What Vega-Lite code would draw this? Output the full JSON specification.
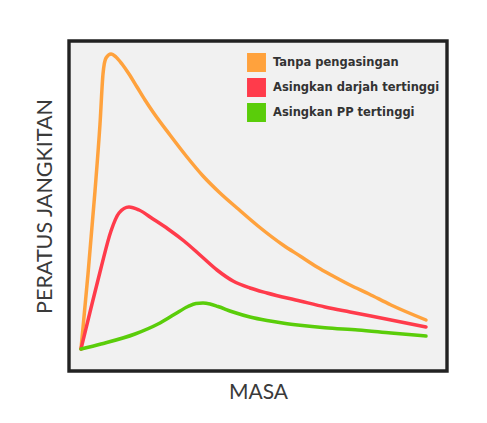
{
  "$schema": "https://vega.github.io/schema/vega-lite/v6.json",
  "autosize": {"type": "none"},
  "padding": {"left": 69, "top": 41, "right": 40, "bottom": 52},
  "width": 378,
  "height": 330,
  "background": "#ffffff",
  "config": {
    "view": {"fill": "#f1f1f1", "stroke": "#222222", "strokeWidth": 3.4},
    "font": "Lato"
  },
  "data": {
    "values": [
      {"series": "Tanpa pengasingan", "masa": 12, "peratus": 22},
      {"series": "Tanpa pengasingan", "masa": 19, "peratus": 97},
      {"series": "Tanpa pengasingan", "masa": 26, "peratus": 180},
      {"series": "Tanpa pengasingan", "masa": 31, "peratus": 247},
      {"series": "Tanpa pengasingan", "masa": 34, "peratus": 297},
      {"series": "Tanpa pengasingan", "masa": 37, "peratus": 313},
      {"series": "Tanpa pengasingan", "masa": 42, "peratus": 317},
      {"series": "Tanpa pengasingan", "masa": 47, "peratus": 314},
      {"series": "Tanpa pengasingan", "masa": 53, "peratus": 307},
      {"series": "Tanpa pengasingan", "masa": 60, "peratus": 297},
      {"series": "Tanpa pengasingan", "masa": 68, "peratus": 284},
      {"series": "Tanpa pengasingan", "masa": 76, "peratus": 271},
      {"series": "Tanpa pengasingan", "masa": 84, "peratus": 259},
      {"series": "Tanpa pengasingan", "masa": 101, "peratus": 236},
      {"series": "Tanpa pengasingan", "masa": 118, "peratus": 214},
      {"series": "Tanpa pengasingan", "masa": 134, "peratus": 195},
      {"series": "Tanpa pengasingan", "masa": 151, "peratus": 178},
      {"series": "Tanpa pengasingan", "masa": 168, "peratus": 163},
      {"series": "Tanpa pengasingan", "masa": 189, "peratus": 145},
      {"series": "Tanpa pengasingan", "masa": 214, "peratus": 126},
      {"series": "Tanpa pengasingan", "masa": 231, "peratus": 115},
      {"series": "Tanpa pengasingan", "masa": 248, "peratus": 104},
      {"series": "Tanpa pengasingan", "masa": 264, "peratus": 95},
      {"series": "Tanpa pengasingan", "masa": 281, "peratus": 86},
      {"series": "Tanpa pengasingan", "masa": 300, "peratus": 77},
      {"series": "Tanpa pengasingan", "masa": 322, "peratus": 66},
      {"series": "Tanpa pengasingan", "masa": 357, "peratus": 51},
      {"series": "Asingkan darjah tertinggi", "masa": 12, "peratus": 22},
      {"series": "Asingkan darjah tertinggi", "masa": 22, "peratus": 63},
      {"series": "Asingkan darjah tertinggi", "masa": 32, "peratus": 103},
      {"series": "Asingkan darjah tertinggi", "masa": 42, "peratus": 140},
      {"series": "Asingkan darjah tertinggi", "masa": 50, "peratus": 158},
      {"series": "Asingkan darjah tertinggi", "masa": 60, "peratus": 164},
      {"series": "Asingkan darjah tertinggi", "masa": 70, "peratus": 161},
      {"series": "Asingkan darjah tertinggi", "masa": 84, "peratus": 152},
      {"series": "Asingkan darjah tertinggi", "masa": 99, "peratus": 142},
      {"series": "Asingkan darjah tertinggi", "masa": 115, "peratus": 130},
      {"series": "Asingkan darjah tertinggi", "masa": 131, "peratus": 116},
      {"series": "Asingkan darjah tertinggi", "masa": 148, "peratus": 101},
      {"series": "Asingkan darjah tertinggi", "masa": 164, "peratus": 90},
      {"series": "Asingkan darjah tertinggi", "masa": 181, "peratus": 83},
      {"series": "Asingkan darjah tertinggi", "masa": 198, "peratus": 78},
      {"series": "Asingkan darjah tertinggi", "masa": 231, "peratus": 70},
      {"series": "Asingkan darjah tertinggi", "masa": 256, "peratus": 64},
      {"series": "Asingkan darjah tertinggi", "masa": 281, "peratus": 59},
      {"series": "Asingkan darjah tertinggi", "masa": 322, "peratus": 51},
      {"series": "Asingkan darjah tertinggi", "masa": 357, "peratus": 44},
      {"series": "Asingkan PP tertinggi", "masa": 12, "peratus": 22},
      {"series": "Asingkan PP tertinggi", "masa": 32, "peratus": 27},
      {"series": "Asingkan PP tertinggi", "masa": 66, "peratus": 37},
      {"series": "Asingkan PP tertinggi", "masa": 89, "peratus": 47},
      {"series": "Asingkan PP tertinggi", "masa": 106, "peratus": 57},
      {"series": "Asingkan PP tertinggi", "masa": 119, "peratus": 64.5},
      {"series": "Asingkan PP tertinggi", "masa": 127, "peratus": 67.5},
      {"series": "Asingkan PP tertinggi", "masa": 134, "peratus": 68},
      {"series": "Asingkan PP tertinggi", "masa": 141, "peratus": 67},
      {"series": "Asingkan PP tertinggi", "masa": 149, "peratus": 64.5},
      {"series": "Asingkan PP tertinggi", "masa": 164, "peratus": 59},
      {"series": "Asingkan PP tertinggi", "masa": 181, "peratus": 54},
      {"series": "Asingkan PP tertinggi", "masa": 198, "peratus": 50.5},
      {"series": "Asingkan PP tertinggi", "masa": 215, "peratus": 47.8},
      {"series": "Asingkan PP tertinggi", "masa": 231, "peratus": 45.8},
      {"series": "Asingkan PP tertinggi", "masa": 256, "peratus": 43.3},
      {"series": "Asingkan PP tertinggi", "masa": 289, "peratus": 41},
      {"series": "Asingkan PP tertinggi", "masa": 322, "peratus": 38},
      {"series": "Asingkan PP tertinggi", "masa": 357, "peratus": 35}
    ]
  },
  "mark": {"type": "line", "interpolate": "monotone", "strokeWidth": 3.5, "strokeCap": "round"},
  "encoding": {
    "x": {
      "field": "masa",
      "type": "quantitative",
      "scale": {"domain": [0, 378], "nice": false, "zero": false},
      "axis": {
        "title": "MASA",
        "titleFont": "Lato",
        "titleFontSize": 21,
        "titleFontWeight": "normal",
        "titleColor": "#3a3a3a",
        "titlePadding": 10,
        "labels": false,
        "ticks": false,
        "domain": false,
        "grid": false
      }
    },
    "y": {
      "field": "peratus",
      "type": "quantitative",
      "scale": {"domain": [0, 330], "nice": false, "zero": false},
      "axis": {
        "title": "PERATUS JANGKITAN",
        "titleFont": "Lato",
        "titleFontSize": 21.5,
        "titleFontWeight": "normal",
        "titleColor": "#3a3a3a",
        "titlePadding": 13,
        "labels": false,
        "ticks": false,
        "domain": false,
        "grid": false
      }
    },
    "color": {
      "field": "series",
      "type": "nominal",
      "sort": ["Tanpa pengasingan", "Asingkan darjah tertinggi", "Asingkan PP tertinggi"],
      "scale": {
        "domain": ["Tanpa pengasingan", "Asingkan darjah tertinggi", "Asingkan PP tertinggi"],
        "range": ["#ffa23d", "#ff3b4b", "#5acd0a"]
      },
      "legend": {
        "title": null,
        "orient": "none",
        "legendX": 178,
        "legendY": 12,
        "symbolType": "square",
        "symbolSize": 300,
        "symbolStrokeColor": "#333333",
        "symbolStrokeWidth": 1.6,
        "labelFont": "DejaVu Sans",
        "labelFontSize": 11.5,
        "labelFontWeight": "bold",
        "labelColor": "#333333",
        "labelLimit": 300,
        "labelOffset": 7,
        "rowPadding": 0,
        "encode": {
          "symbols": {
            "update": {
              "fill": {"scale": "color", "field": "value"},
              "fillOpacity": {"value": 1},
              "stroke": {"value": "#333333"},
              "strokeWidth": {"value": 1.6}
            }
          }
        }
      }
    }
  }
}
